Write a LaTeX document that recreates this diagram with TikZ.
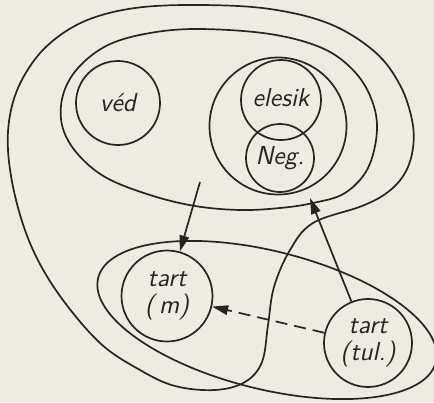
\documentclass[tikz,border=0pt]{standalone}
\usetikzlibrary{arrows.meta}
\definecolor{paper}{RGB}{238,235,227}
\definecolor{ink}{RGB}{40,36,32}
\begin{document}
\begin{tikzpicture}[x=0.5pt,y=-0.5pt,
  ln/.style={draw=ink,line width=0.85pt},
  ring/.style={ln,circle,inner sep=0pt,font=\fontsize{13}{13.5}\selectfont\sffamily\slshape,text=ink,align=center},
  tip/.style={-{Triangle[length=8pt,width=4.8pt]}},
]
\fill[paper] (0,0) rectangle (434,402);
\useasboundingbox (0,0) rectangle (434,402);
% outer contour
\draw[ln] plot[smooth cycle,tension=0.6] coordinates{
 (200,5) (270,9) (330,24) (375,52) (400,85) (412,120) (413,148) (405,173)
 (388,192) (362,206) (313,223) (290,250) (274,287) (268,325) (262,362)
 (245,382) (215,390) (175,386) (140,370) (100,343) (60,296) (33,250)
 (16,200) (8,150) (11,110) (24,76) (48,45) (85,21) (135,8)};
% inner oval
\draw[ln] plot[smooth cycle,tension=0.6] coordinates{
 (200,29) (270,34) (322,48) (353,70) (371,98) (377,130) (368,168)
 (345,193) (313,203) (280,208) (240,210) (195,206) (150,195) (105,177)
 (76,152) (62,125) (63,95) (78,68) (108,45) (150,33)};
% tilted ellipse
\draw[ln,rotate around={-14:(267,320)}] (267,320) ellipse [x radius=174,y radius=69];
% circles
\node[ring,minimum size=42pt] (ved) at (118,103) {v\'ed};
\node[ring,minimum size=68.5pt] (grp) at (278,126) {};
\node[ring,minimum size=40pt] (elesik) at (281,100) {\raisebox{2.5pt}{elesik}};
\node[ring,minimum size=34pt] (neg) at (280,158) {\raisebox{-2.5pt}{Neg.}};
\node[ring,minimum size=45.5pt] (tartm) at (167,296) {tart\\(\,m)};
\node[ring,minimum size=44pt] (tarttul) at (368,343) {tart\\(tul.)};
% arrows
\coordinate (a1) at (200,182);
\coordinate (a2) at (310,198);
\draw[ln,tip] (a1) -- (tartm);
\draw[ln,tip] (tarttul) -- (a2);
\draw[ln,tip,dash pattern=on 6pt off 3.5pt] (tarttul) -- (tartm);
\end{tikzpicture}
\end{document}
